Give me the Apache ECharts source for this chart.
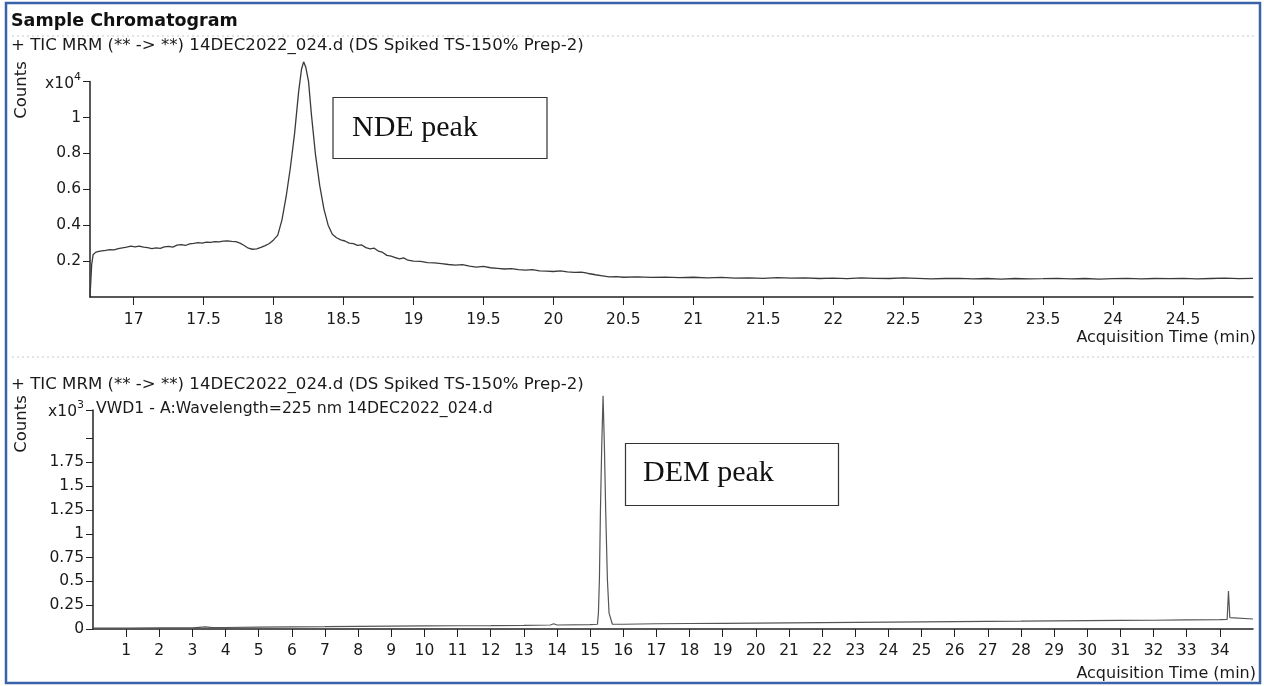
<!DOCTYPE html>
<html>
<head>
<meta charset="utf-8">
<script src="https://cdn.jsdelivr.net/npm/echarts@6/dist/echarts.min.js"></script>
<style>
html,body{margin:0;padding:0;background:#fff;}
#c{width:1264px;height:686px;}
</style>
</head>
<body>
<div id="c"></div>
<script>
// ---------- DATA ----------
// Top panel: TIC MRM trace (time in min, counts x10^4)
const topTimes = [16.688,16.692,16.70,16.71,16.73,16.76,16.80,16.83,16.86,16.89,16.92,16.95,16.98,17.01,17.04,17.07,17.10,17.13,17.16,17.19,17.22,17.25,17.28,17.31,17.34,17.37,17.40,17.43,17.46,17.49,17.52,17.55,17.58,17.61,17.64,17.67,17.70,17.73,17.76,17.79,17.82,17.85,17.88,17.91,17.94,17.97,18.00,18.03,18.06,18.09,18.12,18.15,18.18,18.20,18.215,18.23,18.25,18.27,18.30,18.33,18.36,18.39,18.42,18.45,18.48,18.51,18.54,18.57,18.60,18.63,18.66,18.69,18.72,18.75,18.78,18.81,18.84,18.87,18.90,18.93,18.96,19.00,19.05,19.10,19.15,19.20,19.25,19.30,19.35,19.40,19.45,19.50,19.55,19.60,19.65,19.70,19.75,19.80,19.85,19.90,19.95,20.00,20.05,20.10,20.15,20.20,20.25,20.30,20.35,20.40,20.45,20.50,20.60,20.70,20.80,20.90,21.00,21.10,21.20,21.30,21.40,21.50,21.60,21.70,21.80,21.90,22.00,22.10,22.20,22.30,22.40,22.50,22.60,22.70,22.80,22.90,23.00,23.10,23.20,23.30,23.40,23.50,23.60,23.70,23.80,23.90,24.00,24.10,24.20,24.30,24.40,24.50,24.60,24.70,24.80,24.90,25.00];
const topValues = [0.005,0.06,0.18,0.235,0.25,0.255,0.26,0.264,0.262,0.27,0.274,0.278,0.283,0.279,0.284,0.278,0.275,0.270,0.274,0.271,0.279,0.282,0.278,0.289,0.292,0.287,0.296,0.299,0.303,0.300,0.306,0.304,0.309,0.307,0.311,0.313,0.310,0.308,0.300,0.287,0.272,0.266,0.268,0.276,0.286,0.298,0.318,0.345,0.43,0.56,0.72,0.91,1.15,1.27,1.31,1.28,1.20,1.02,0.79,0.62,0.49,0.40,0.35,0.33,0.318,0.312,0.300,0.297,0.288,0.290,0.275,0.268,0.272,0.255,0.248,0.232,0.228,0.220,0.212,0.218,0.205,0.200,0.198,0.192,0.190,0.186,0.181,0.178,0.180,0.172,0.166,0.171,0.163,0.160,0.156,0.158,0.152,0.150,0.153,0.146,0.144,0.142,0.145,0.140,0.137,0.139,0.131,0.124,0.118,0.112,0.114,0.110,0.112,0.109,0.111,0.108,0.110,0.106,0.109,0.105,0.107,0.104,0.108,0.105,0.106,0.103,0.105,0.102,0.106,0.104,0.103,0.106,0.104,0.101,0.103,0.104,0.101,0.103,0.100,0.103,0.101,0.102,0.104,0.101,0.103,0.100,0.102,0.104,0.101,0.103,0.102,0.104,0.101,0.103,0.105,0.102,0.104];

// Bottom panel: VWD1 225 nm trace (time in min, counts x10^3)
const botTimes = [0,1,2,3,3.4,3.6,4,5,6,7,8,9,10,11,12,13,13.8,13.9,14.0,15.0,15.22,15.25,15.28,15.31,15.35,15.39,15.43,15.47,15.52,15.57,15.67,16,17,18,19,20,21,22,23,24,25,26,27,28,29,30,31,32,33,34,34.22,34.26,34.30,34.36,35];
const botValues = [0.01,0.01,0.012,0.012,0.022,0.014,0.016,0.02,0.022,0.024,0.028,0.03,0.032,0.034,0.035,0.038,0.042,0.055,0.042,0.045,0.05,0.17,0.525,1.23,1.925,2.45,1.925,1.23,0.525,0.17,0.05,0.05,0.055,0.058,0.06,0.062,0.065,0.068,0.07,0.072,0.075,0.078,0.08,0.082,0.085,0.088,0.09,0.092,0.095,0.098,0.10,0.40,0.12,0.105,0.105];

// Tick labels
const topXTicks = [17,17.5,18,18.5,19,19.5,20,20.5,21,21.5,22,22.5,23,23.5,24,24.5];
const topYTicks = [0.2,0.4,0.6,0.8,1.0,1.2];
const topYTop = 1.2, topYTopBase = 'x10', topYTopExp = '4';
const botXTicks = [1,2,3,4,5,6,7,8,9,10,11,12,13,14,15,16,17,18,19,20,21,22,23,24,25,26,27,28,29,30,31,32,33,34];
const botYTicks = [0,0.25,0.5,0.75,1,1.25,1.5,1.75,2,2.3];
const botYLabels = [0,0.25,0.5,0.75,1,1.25,1.5,1.75,2.3];
const botYTop = 2.3, botYTopBase = 'x10', botYTopExp = '3';

const titleText = 'Sample Chromatogram';
const topSubtitle = '+ TIC MRM (** -> **) 14DEC2022_024.d (DS Spiked TS-150% Prep-2)';
const botSubtitle = '+ TIC MRM (** -> **) 14DEC2022_024.d (DS Spiked TS-150% Prep-2)';
const botTrace = 'VWD1 - A:Wavelength=225 nm 14DEC2022_024.d';
const xName = 'Acquisition Time (min)';
const yName = 'Counts';
const note1 = 'NDE peak', note2 = 'DEM peak';

// ---------- CHART ----------
const FONT = 'DejaVu Sans';
const INK = '#1a1a1a';
const chart = echarts.init(document.getElementById('c'), null, {renderer:'canvas'});

function pairs(t, v){ return t.map((x,i)=>[x, v[i]]); }
function fmtNum(v){ return String(+v.toFixed(2)); }
const richSup = {
  b:{fontFamily:FONT, fontSize:15.5, color:INK, lineHeight:20, verticalAlign:'bottom'},
  s:{fontFamily:FONT, fontSize:11, color:INK, lineHeight:20, verticalAlign:'top'}
};

const axisLineStyle = {show:true, onZero:false, lineStyle:{color:'#222', width:1.5}};
const labelBase = {color:INK, fontFamily:FONT, fontSize:15.5};

const option = {
  animation:false,
  backgroundColor:'#fff',
  grid:[
    {left:90, right:11, top:81.6, height:215.4},
    {left:93, right:11, top:410, height:219}
  ],
  xAxis:[
    {gridIndex:0, type:'value', min:16.688, max:25.0, axisLine:axisLineStyle, splitLine:{show:false},
      axisTick:{show:true, length:8, customValues:topXTicks, lineStyle:{color:'#222'}},
      axisLabel:Object.assign({}, labelBase, {margin:15, customValues:topXTicks, formatter:fmtNum})},
    {gridIndex:1, type:'value', min:0, max:35, axisLine:axisLineStyle, splitLine:{show:false},
      axisTick:{show:true, length:8, customValues:botXTicks, lineStyle:{color:'#222'}},
      axisLabel:Object.assign({}, labelBase, {margin:14, customValues:botXTicks, formatter:fmtNum})}
  ],
  yAxis:[
    {gridIndex:0, type:'value', min:0, max:topYTop, axisLine:axisLineStyle, splitLine:{show:false},
      axisTick:{show:true, length:7, customValues:topYTicks, lineStyle:{color:'#222'}},
      axisLabel:Object.assign({}, labelBase, {margin:9, customValues:topYTicks, rich:richSup,
        formatter:v => Math.abs(v-topYTop)<1e-9 ? '{b|'+topYTopBase+'}{s|'+topYTopExp+'}' : fmtNum(v)})},
    {gridIndex:1, type:'value', min:0, max:botYTop, axisLine:axisLineStyle, splitLine:{show:false},
      axisTick:{show:true, length:7, customValues:botYTicks, lineStyle:{color:'#222'}},
      axisLabel:Object.assign({}, labelBase, {margin:9, customValues:botYLabels, rich:richSup,
        formatter:v => Math.abs(v-botYTop)<1e-9 ? '{b|'+botYTopBase+'}{s|'+botYTopExp+'}' : fmtNum(v)})}
  ],
  series:[
    {type:'line', xAxisIndex:0, yAxisIndex:0, data:pairs(topTimes, topValues), showSymbol:false, clip:false,
     lineStyle:{color:'#3a3a3a', width:1.3}},
    {type:'line', xAxisIndex:1, yAxisIndex:1, data:pairs(botTimes, botValues), showSymbol:false, clip:false,
     lineStyle:{color:'#555', width:1.2}}
  ],
  graphic:[
    {type:'rect', shape:{x:6, y:3, width:1254, height:680}, style:{fill:null, stroke:'#3a62a8', lineWidth:2.5}, z:100},
    {type:'line', shape:{x1:12, y1:36, x2:1255, y2:36}, style:{stroke:'#c8c8c8', lineWidth:1, lineDash:[2,3]}},
    {type:'line', shape:{x1:12, y1:357, x2:1255, y2:357}, style:{stroke:'#c8c8c8', lineWidth:1, lineDash:[2,3]}},
    {type:'text', left:11, top:12, style:{text:titleText, font:'bold 17.5px "DejaVu Sans"', fill:'#111'}},
    {type:'text', left:11, top:37, style:{text:topSubtitle, font:'16.6px "DejaVu Sans"', fill:INK}},
    {type:'text', left:11, top:376, style:{text:botSubtitle, font:'16.6px "DejaVu Sans"', fill:INK}},
    {type:'text', left:96, top:401, style:{text:botTrace, font:'15.7px "DejaVu Sans"', fill:INK}},
    {type:'text', x:22, y:90, rotation:Math.PI/2, style:{text:yName, font:'16.5px "DejaVu Sans"', fill:INK, align:'center', verticalAlign:'middle'}},
    {type:'text', x:22, y:424, rotation:Math.PI/2, style:{text:yName, font:'16.5px "DejaVu Sans"', fill:INK, align:'center', verticalAlign:'middle'}},
    {type:'text', x:1256, y:338, style:{text:xName, font:'16px "DejaVu Sans"', fill:INK, align:'right', verticalAlign:'middle'}},
    {type:'text', x:1256, y:674, style:{text:xName, font:'16px "DejaVu Sans"', fill:INK, align:'right', verticalAlign:'middle'}},
    {type:'rect', shape:{x:333, y:97.5, width:214, height:61}, style:{fill:'#fff', stroke:'#333', lineWidth:1.2}},
    {type:'text', x:352, y:128, style:{text:note1, font:'30px "Liberation Serif"', fill:'#111', verticalAlign:'middle'}},
    {type:'rect', shape:{x:625.5, y:443.5, width:213, height:62}, style:{fill:'#fff', stroke:'#333', lineWidth:1.2}},
    {type:'text', x:643, y:473, style:{text:note2, font:'30px "Liberation Serif"', fill:'#111', verticalAlign:'middle'}}
  ]
};
chart.setOption(option);
</script>
</body>
</html>
